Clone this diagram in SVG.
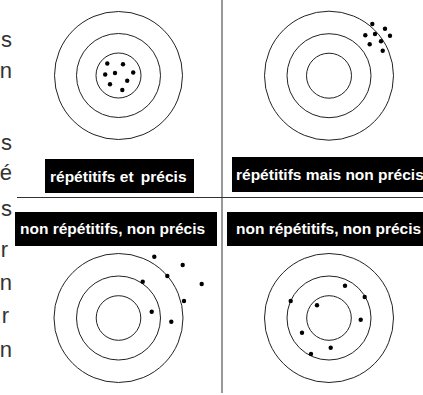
<svg xmlns="http://www.w3.org/2000/svg" width="423" height="395" viewBox="0 0 423 395">
<style>
.ring{fill:none;stroke:#222;stroke-width:1}
.dot{fill:#000}
.lbl{fill:#000}
.lt{fill:#fff;font-family:"Liberation Sans",Arial,sans-serif;font-weight:bold;font-size:15.5px}
.side{fill:#333;font-family:"Liberation Sans",Arial,sans-serif;font-size:22px}
</style>
<rect width="423" height="395" fill="#fff"/>
<g id="margin-text">
<text class="side" x="12" y="47" text-anchor="end">s</text>
<text class="side" x="12" y="78" text-anchor="end">n</text>
<text class="side" x="12" y="150" text-anchor="end">s</text>
<text class="side" x="12" y="180" text-anchor="end">é</text>
<text class="side" x="12" y="216" text-anchor="end">s</text>
<text class="side" x="8" y="257" text-anchor="end">r</text>
<text class="side" x="12" y="290" text-anchor="end">n</text>
<text class="side" x="9" y="323" text-anchor="end">r</text>
<text class="side" x="12" y="357" text-anchor="end">n</text>
</g>
<g id="connectors">
<line x1="222" y1="0" x2="222" y2="393" stroke="#999" stroke-width="2"/>
<line x1="17" y1="197.5" x2="423" y2="197.5" stroke="#333" stroke-width="1"/>
</g>
<g id="target-tl">
<circle class="ring" cx="118.5" cy="75.5" r="64"/>
<circle class="ring" cx="118.5" cy="75.5" r="42"/>
<circle class="ring" cx="118.5" cy="75.5" r="22.5"/>
<circle class="dot" cx="107.3" cy="63.5" r="2.2"/>
<circle class="dot" cx="123" cy="64.3" r="2.2"/>
<circle class="dot" cx="105.2" cy="74.5" r="2.2"/>
<circle class="dot" cx="115" cy="73" r="2.2"/>
<circle class="dot" cx="133.2" cy="72.5" r="2.2"/>
<circle class="dot" cx="127.2" cy="80.7" r="2.2"/>
<circle class="dot" cx="110" cy="84.3" r="2.2"/>
<circle class="dot" cx="122.3" cy="90" r="2.2"/>
</g>
<g id="target-tr">
<circle class="ring" cx="329" cy="75.7" r="64.5"/>
<circle class="ring" cx="329" cy="75.7" r="42"/>
<circle class="ring" cx="329" cy="75.7" r="22.5"/>
<circle class="dot" cx="372.3" cy="24" r="2.2"/>
<circle class="dot" cx="385" cy="28.7" r="2.2"/>
<circle class="dot" cx="365.3" cy="35.3" r="2.2"/>
<circle class="dot" cx="375" cy="34" r="2.2"/>
<circle class="dot" cx="390" cy="35.7" r="2.2"/>
<circle class="dot" cx="369.7" cy="44.3" r="2.2"/>
<circle class="dot" cx="381" cy="41.3" r="2.2"/>
<circle class="dot" cx="382.7" cy="50.7" r="2.2"/>
</g>
<g id="target-bl">
<circle class="ring" cx="118.5" cy="318" r="64.5"/>
<circle class="ring" cx="118.5" cy="318" r="42"/>
<circle class="ring" cx="118.5" cy="318" r="22.3"/>
<circle class="dot" cx="154.3" cy="256.7" r="2.2"/>
<circle class="dot" cx="182.7" cy="265" r="2.2"/>
<circle class="dot" cx="167.3" cy="276" r="2.2"/>
<circle class="dot" cx="142.7" cy="281.7" r="2.2"/>
<circle class="dot" cx="201.7" cy="284" r="2.2"/>
<circle class="dot" cx="184" cy="301" r="2.2"/>
<circle class="dot" cx="151.7" cy="311.7" r="2.2"/>
<circle class="dot" cx="171.3" cy="321.7" r="2.2"/>
</g>
<g id="target-br">
<circle class="ring" cx="329" cy="318" r="64.5"/>
<circle class="ring" cx="329" cy="318" r="42"/>
<circle class="ring" cx="329" cy="318" r="22.3"/>
<circle class="dot" cx="345" cy="285.7" r="2.2"/>
<circle class="dot" cx="364.7" cy="297" r="2.2"/>
<circle class="dot" cx="290.7" cy="301" r="2.2"/>
<circle class="dot" cx="317" cy="305.3" r="2.2"/>
<circle class="dot" cx="360.7" cy="319.7" r="2.2"/>
<circle class="dot" cx="302" cy="332.7" r="2.2"/>
<circle class="dot" cx="330.7" cy="347.7" r="2.2"/>
<circle class="dot" cx="311" cy="354" r="2.2"/>
</g>
<g id="label-tl">
<rect class="lbl" x="45" y="159" width="149" height="34"/>
<text class="lt" x="50" y="182">répétitifs et <tspan dx="3">précis</tspan></text>
</g>
<g id="label-tr">
<rect class="lbl" x="232" y="157" width="191" height="35"/>
<text class="lt" x="236" y="180">répétitifs mais non précis</text>
</g>
<g id="label-bl">
<rect class="lbl" x="15" y="212" width="202" height="34"/>
<text class="lt" x="20" y="234">non répétitifs, non précis</text>
</g>
<g id="label-br">
<rect class="lbl" x="227" y="212" width="196" height="34"/>
<text class="lt" x="236" y="234">non répétitifs, non précis</text>
</g>
</svg>
